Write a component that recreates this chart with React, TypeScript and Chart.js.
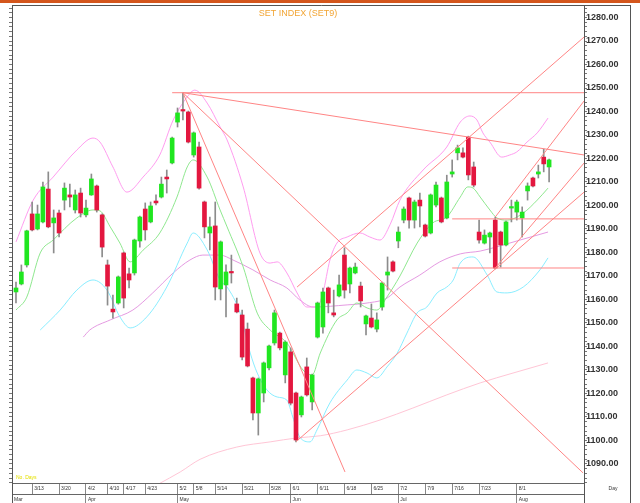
import React, { useEffect, useRef } from 'react';
import { Chart, registerables } from 'chart.js';

Chart.register(...registerables);

const FONT = '"Liberation Sans", Arial, sans-serif';

// OHLC per trading day (index 0..99)
const opens = [1163.2,1166.6,1174.7,1196.4,1190.0,1193.0,1207.0,1192.6,1196.8,1202.3,1204.5,1198.1,1205.3,1196.0,1204.5,1208.3,1196.0,1174.7,1155.9,1158.5,1179.8,1170.9,1171.3,1184.9,1198.5,1193.0,1201.9,1203.6,1212.1,1218.1,1235.5,1240.6,1239.8,1221.5,1224.9,1201.5,1188.3,1191.3,1164.5,1166.2,1171.9,1158.1,1153.4,1147.4,1126.6,1111.7,1120.2,1130.9,1141.5,1145.7,1127.9,1137.7,1120.2,1110.9,1131.3,1116.4,1144.0,1148.3,1164.9,1154.3,1161.5,1178.9,1166.6,1171.3,1165.7,1149.6,1152.1,1147.4,1156.8,1170.4,1176.0,1184.9,1193.8,1203.2,1193.8,1202.3,1191.7,1188.3,1200.2,1203.2,1194.7,1213.4,1222.4,1222.4,1229.1,1216.4,1188.7,1184.0,1186.6,1193.8,1188.7,1183.2,1198.9,1197.2,1194.7,1206.2,1211.7,1213.4,1220.6,1216.4];
const highs = [1167.4,1174.7,1189.5,1201.5,1200.2,1210.0,1214.3,1198.1,1198.1,1209.6,1209.1,1206.6,1207.4,1202.3,1213.4,1208.7,1196.4,1176.8,1161.9,1170.0,1180.2,1173.4,1185.7,1195.5,1201.1,1201.5,1204.5,1212.1,1215.1,1229.1,1241.5,1247.9,1240.2,1231.3,1227.0,1201.9,1195.1,1201.5,1184.9,1174.7,1178.9,1160.6,1155.5,1150.0,1127.0,1126.6,1133.4,1140.6,1155.5,1146.1,1142.4,1139.4,1120.6,1118.9,1135.1,1128.3,1158.9,1164.9,1165.3,1164.0,1170.4,1182.0,1173.8,1175.5,1167.4,1153.4,1158.1,1154.3,1167.4,1178.1,1176.4,1190.9,1199.4,1203.6,1202.3,1205.3,1192.1,1204.9,1210.0,1203.6,1212.9,1219.4,1225.7,1224.5,1229.5,1218.5,1193.8,1189.6,1188.7,1195.1,1189.1,1193.4,1202.3,1202.3,1199.4,1209.6,1212.1,1217.2,1224.0,1219.8];
const lows = [1158.5,1166.2,1173.8,1189.2,1189.6,1192.6,1190.5,1179.8,1186.6,1198.1,1199.4,1196.8,1195.1,1195.1,1204.3,1197.2,1178.1,1157.6,1152.1,1158.0,1156.4,1164.9,1170.4,1182.3,1185.3,1192.6,1200.2,1203.2,1205.3,1217.7,1233.4,1236.4,1226.6,1220.6,1207.0,1186.2,1181.1,1159.8,1159.8,1152.6,1167.0,1154.3,1134.3,1131.3,1108.7,1102.3,1116.4,1130.0,1140.6,1138.5,1124.5,1115.1,1099.4,1110.0,1118.9,1113.0,1143.6,1145.7,1154.3,1152.6,1161.1,1160.6,1162.8,1170.9,1156.8,1144.9,1147.9,1146.2,1155.5,1164.0,1171.7,1182.0,1192.6,1190.4,1190.4,1190.9,1186.6,1187.9,1199.4,1192.6,1194.3,1212.1,1219.4,1220.2,1210.9,1207.9,1184.0,1183.6,1179.8,1173.0,1173.8,1182.8,1193.0,1193.8,1186.6,1202.3,1207.9,1211.7,1214.3,1210.0];
const closes = [1164.9,1171.7,1189.2,1189.6,1196.4,1207.9,1190.9,1194.7,1188.3,1207.4,1203.6,1204.5,1196.8,1198.9,1211.3,1198.1,1182.3,1165.7,1154.7,1169.6,1160.6,1168.3,1185.3,1195.1,1189.6,1199.8,1201.1,1209.1,1211.3,1228.7,1239.4,1240.2,1227.0,1230.9,1207.4,1190.9,1190.9,1165.3,1184.5,1171.7,1171.3,1154.7,1135.5,1131.7,1111.7,1126.2,1133.0,1140.2,1154.3,1139.4,1141.9,1115.9,1100.2,1118.5,1119.4,1127.9,1158.5,1163.2,1158.5,1153.4,1166.2,1164.0,1173.4,1173.8,1159.4,1153.0,1148.3,1151.3,1167.0,1171.7,1172.1,1188.7,1198.5,1193.8,1201.5,1199.8,1187.0,1204.5,1208.7,1193.0,1210.0,1214.3,1224.5,1220.6,1213.0,1208.7,1185.3,1187.4,1188.3,1173.4,1183.2,1193.0,1199.4,1201.5,1197.2,1208.3,1208.3,1214.3,1217.7,1219.4];

// indicator lines: [day index, value]
const shortMA: [number, number][] = [[0,1155.5],[2.0,1161.0],[4.5,1179.8],[6.9,1185.3],[11.3,1194.7],[14.3,1198.1],[15.6,1197.7],[17.5,1190.9],[19.3,1184.0],[21.2,1176.0],[23.6,1181.0],[26.7,1188.3],[29.9,1203.6],[31.8,1216.4],[32.9,1219.4],[35.5,1212.1],[37.9,1198.1],[39.2,1190.9],[42.2,1173.8],[44.8,1154.2],[47.2,1147.0],[50.3,1141.5],[53.3,1130.0],[55.0,1127.9],[56.5,1137.2],[59.6,1151.3],[61.5,1154.3],[63.3,1158.5],[65.2,1156.4],[67.0,1155.5],[68.9,1161.1],[71.3,1170.0],[74.5,1184.0],[77.4,1192.6],[80.0,1195.1],[82.5,1203.6],[83.9,1207.9],[84.9,1207.4],[86.2,1203.6],[88.0,1198.1],[89.3,1194.7],[91.2,1193.8],[94.2,1196.8],[96.8,1202.3],[98.8,1207.4]];
const upperBand: [number, number][] = [[0,1184.5],[3.2,1202.3],[6.9,1212.1],[11.3,1223.6],[14.3,1228.7],[15.6,1227.0],[18.0,1216.4],[20.6,1205.7],[23.6,1212.1],[26.7,1221.5],[29.2,1236.4],[31.8,1246.2],[33.2,1249.1],[35.5,1243.6],[37.9,1233.4],[39.2,1227.9],[42.2,1207.9],[45.3,1179.8],[47.2,1175.5],[48.5,1176.0],[50.3,1171.3],[52.2,1162.8],[54.0,1156.8],[55.9,1156.8],[57.0,1162.8],[58.3,1176.8],[59.6,1184.0],[61.5,1186.6],[63.9,1188.3],[65.7,1186.6],[67.6,1185.3],[69.5,1192.0],[71.3,1202.3],[75.6,1215.1],[80.0,1224.9],[82.5,1235.5],[84.3,1238.1],[85.6,1236.4],[86.7,1230.9],[88.0,1227.0],[90.2,1220.6],[91.7,1221.5],[93.0,1222.8],[94.9,1227.0],[96.8,1230.9],[98.8,1237.2]];
const lowerBand: [number, number][] = [[4.5,1147.0],[8.2,1155.5],[11.3,1164.0],[14.3,1168.3],[16.9,1164.0],[19.3,1152.6],[21.2,1147.9],[24.3,1152.6],[28.0,1165.3],[31.8,1184.0],[32.9,1188.3],[35.5,1181.1],[37.9,1168.3],[39.2,1165.3],[41.6,1154.3],[43.5,1137.2],[44.8,1128.7],[46.6,1121.5],[48.5,1118.5],[50.3,1117.2],[51.4,1110.0],[52.7,1101.5],[54.6,1099.4],[55.9,1104.5],[58.3,1116.0],[61.5,1125.7],[63.3,1130.0],[65.2,1128.7],[67.0,1126.6],[68.9,1131.3],[70.8,1137.2],[72.6,1145.7],[74.5,1154.3],[76.3,1156.8],[78.2,1162.8],[80.0,1165.3],[81.2,1168.3],[82.5,1175.5],[84.9,1178.1],[87.5,1170.4],[89.3,1163.2],[91.2,1162.8],[94.2,1165.3],[97.3,1172.6],[98.8,1177.7]];
const midMA: [number, number][] = [[12.5,1144.0],[13.7,1147.0],[17.5,1151.3],[21.7,1155.5],[25.4,1162.8],[29.2,1171.3],[32.3,1176.8],[34.7,1178.9],[37.9,1178.9],[40.3,1176.8],[44.0,1172.6],[47.2,1168.3],[50.3,1164.9],[52.7,1159.8],[55.2,1156.8],[61.5,1157.7],[65.2,1158.5],[68.9,1160.6],[71.3,1165.3],[75.0,1170.4],[78.7,1176.0],[82.5,1179.4],[86.2,1180.6],[89.9,1182.8],[93.6,1185.3],[98.8,1188.7]];
const longMA: [number, number][] = [[26.5,1081.5],[30.5,1086.6],[34.2,1092.0],[41.0,1097.2],[47.2,1099.4],[52.2,1101.1],[56.5,1102.0],[61.5,1104.5],[67.6,1108.7],[73.7,1113.8],[80.0,1119.4],[86.2,1124.5],[92.3,1128.7],[98.8,1133.0]];

// trend lines: [x1, y1, x2, y2] in (day index, value)
const trendLines: [number, number, number, number][] = [
  [29, 1248, 105.5, 1248],
  [31, 1248, 105.5, 1221.5],
  [31, 1248, 61.1, 1086.6],
  [31, 1248, 105.3, 1086.2],
  [52, 1099.5, 105.5, 1205.7],
  [52.2, 1165.3, 105.5, 1271.7],
  [89, 1195.1, 105.5, 1244.5],
  [89, 1173.4, 105.5, 1218.1],
  [81, 1194.3, 105.5, 1194.3],
  [81, 1173.4, 105.5, 1173.4],
];

const dateTickIdx = [3, 8, 13, 17, 20, 24, 30, 33, 37, 42, 47, 51, 56, 61, 66, 71, 76, 81, 86, 93];
const dateLabels = ['3/13','3/20','4/2','4/10','4/17','4/23','5/2','5/8','5/14','5/21','5/28','6/1','6/11','6/18','6/25','7/2','7/9','7/16','7/23','8/1'];
const monthStartIdx = [13, 30, 51, 71, 93];
const monthLabels = ['Mar', 'Apr', 'May', 'Jun', 'Jul', 'Aug'];

const X_MIN = -0.74;
const X_MAX = 105.48;
const Y_MIN = 1081.9;
const Y_MAX = 1284.9;
const Y_STEP = 2;

const GREEN = '#20e620';
const RED = '#e3173f';

export default function App() {
  const ref = useRef<HTMLCanvasElement>(null);

  useEffect(() => {
    const canvas = ref.current;
    if (!canvas) return;
    const idx = opens.map((_, i) => i);
    const bodyColors = idx.map((i) => (closes[i] >= opens[i] ? GREEN : RED));

    const lineDs = (pts: [number, number][], color: string, order: number, smooth = true) => ({
      type: 'line' as const,
      data: pts.map(([x, y]) => ({ x, y })),
      borderColor: color,
      borderWidth: 1,
      pointRadius: 0,
      fill: false,
      cubicInterpolationMode: smooth ? ('monotone' as const) : ('default' as const),
      tension: smooth ? 0.4 : 0,
      order,
      xAxisID: 'x',
      yAxisID: 'y',
    });

    const yTicks: { value: number }[] = [];
    for (let v = Math.ceil(Y_MIN / Y_STEP) * Y_STEP; v <= Y_MAX; v += Y_STEP) yTicks.push({ value: v });

    const decor = {
      id: 'decor',
      beforeDraw(chart: any) {
        const c = chart.ctx;
        c.save();
        c.fillStyle = '#ffffff';
        c.fillRect(0, 0, chart.width, chart.height);
        c.restore();
      },
      afterDraw(chart: any) {
        const c = chart.ctx;
        const a = chart.chartArea;
        c.save();
        c.fillStyle = '#d4561c';
        c.fillRect(0, 0, chart.width, 3);
        c.strokeStyle = '#555';
        c.lineWidth = 1;
        c.beginPath();
        c.moveTo(a.left, 5.5);
        c.lineTo(630.5, 5.5);
        c.moveTo(630.5, 5);
        c.lineTo(630.5, chart.height);
        c.moveTo(a.right + 0.5, 5);
        c.lineTo(a.right + 0.5, chart.height);
        c.moveTo(a.left + 0.5, 5);
        c.lineTo(a.left + 0.5, chart.height);
        c.stroke();
        c.textBaseline = 'middle';
        c.textAlign = 'center';
        c.fillStyle = '#f2a534';
        c.font = `9px ${FONT}`;
        c.fillText('SET INDEX (SET9)', (a.left + a.right) / 2, 14);
        c.fillStyle = '#333';
        c.font = `5px ${FONT}`;
        c.fillText('Day', 613, a.bottom + 6);
        c.textAlign = 'left';
        c.fillStyle = '#e4e000';
        c.fillText('No. Days', a.left + 4, a.bottom - 5);
        c.restore();
      },
    };

    const chart = new Chart(canvas, {
      type: 'bar',
      data: {
        datasets: [
          ...trendLines.map((t) => ({
            ...lineDs([[t[0], t[1]], [t[2], t[3]]], '#ff8585', 0, false),
          })),
          {
            type: 'bar' as const,
            data: idx.map((i) => ({ x: i, y: [opens[i], closes[i]] })),
            backgroundColor: bodyColors,
            barThickness: 4,
            minBarLength: 1.5,
            grouped: false,
            order: 1,
            xAxisID: 'x',
            yAxisID: 'y',
          },
          {
            type: 'bar' as const,
            data: idx.map((i) => ({ x: i, y: [lows[i], highs[i]] })),
            backgroundColor: '#8c8c8c',
            barThickness: 1,
            grouped: false,
            order: 2,
            xAxisID: 'x',
            yAxisID: 'y',
          },
          lineDs(shortMA, '#8fe88f', 3),
          lineDs(upperBand, '#ff9cf0', 4),
          lineDs(lowerBand, '#8aeeff', 5),
          lineDs(midMA, '#e59ae2', 6),
          lineDs(longMA, '#ffc6d6', 7),
        ] as any,
      },
      options: {
        responsive: false,
        animation: false,
        devicePixelRatio: 1,
        events: [],
        layout: { padding: { top: 6, left: 0, right: 0, bottom: 0 }, autoPadding: false },
        plugins: { legend: { display: false }, tooltip: { enabled: false }, title: { display: false } },
        scales: {
          x: {
            type: 'linear',
            position: 'bottom',
            min: X_MIN,
            max: X_MAX,
            offset: false,
            weight: 0,
            afterBuildTicks: (s: any) => {
              s.ticks = dateTickIdx.map((v) => ({ value: v }));
            },
            afterFit: (s: any) => {
              s.height = 11;
            },
            ticks: {
              autoSkip: false,
              maxRotation: 0,
              minRotation: 0,
              align: 'start',
              labelOffset: 2,
              padding: -8,
              color: '#333',
              font: { size: 5, family: FONT },
              callback: (_v: any, i: number) => dateLabels[i],
            },
            grid: { drawOnChartArea: false, drawTicks: true, tickLength: 11, color: '#888', offset: false },
            border: { display: true, color: '#666' },
          },
          xm: {
            type: 'linear',
            position: 'bottom',
            min: X_MIN,
            max: X_MAX,
            offset: false,
            weight: 1,
            afterBuildTicks: (s: any) => {
              s.ticks = [{ value: s.min }, ...monthStartIdx.map((v) => ({ value: v }))];
            },
            afterFit: (s: any) => {
              s.height = 9;
            },
            ticks: {
              autoSkip: false,
              maxRotation: 0,
              minRotation: 0,
              align: 'start',
              labelOffset: 2,
              padding: -6,
              color: '#333',
              font: { size: 5, family: FONT },
              callback: (_v: any, i: number) => monthLabels[i],
            },
            grid: { drawOnChartArea: false, drawTicks: true, tickLength: 9, color: '#888', offset: false },
            border: { display: true, color: '#666' },
          },
          y: {
            type: 'linear',
            position: 'right',
            min: Y_MIN,
            max: Y_MAX,
            afterBuildTicks: (s: any) => {
              s.ticks = yTicks.map((t) => ({ ...t }));
            },
            afterFit: (s: any) => {
              s.width = 56;
            },
            ticks: {
              autoSkip: false,
              padding: -1,
              color: '#333',
              font: { size: 9, weight: 'bold', family: FONT },
              callback: (v: any) => (Math.round(v) % 10 === 0 ? Number(v).toFixed(2) : ''),
            },
            grid: { drawOnChartArea: false, drawTicks: true, tickLength: 3, color: '#777' },
            border: { display: true, color: '#555' },
          },
          yl: {
            type: 'linear',
            position: 'left',
            min: Y_MIN,
            max: Y_MAX,
            afterBuildTicks: (s: any) => {
              s.ticks = yTicks.map((t) => ({ ...t }));
            },
            afterFit: (s: any) => {
              s.width = 12;
            },
            ticks: { display: false },
            grid: { drawOnChartArea: false, drawTicks: true, tickLength: 3, color: '#777' },
            border: { display: true, color: '#555' },
          },
        },
      } as any,
      plugins: [decor],
    });

    return () => chart.destroy();
  }, []);

  return (
    <div style={{ position: 'absolute', left: 0, top: 0, width: 640, height: 503 }}>
      <canvas ref={ref} width={640} height={503} style={{ display: 'block', width: 640, height: 503 }} />
    </div>
  );
}
